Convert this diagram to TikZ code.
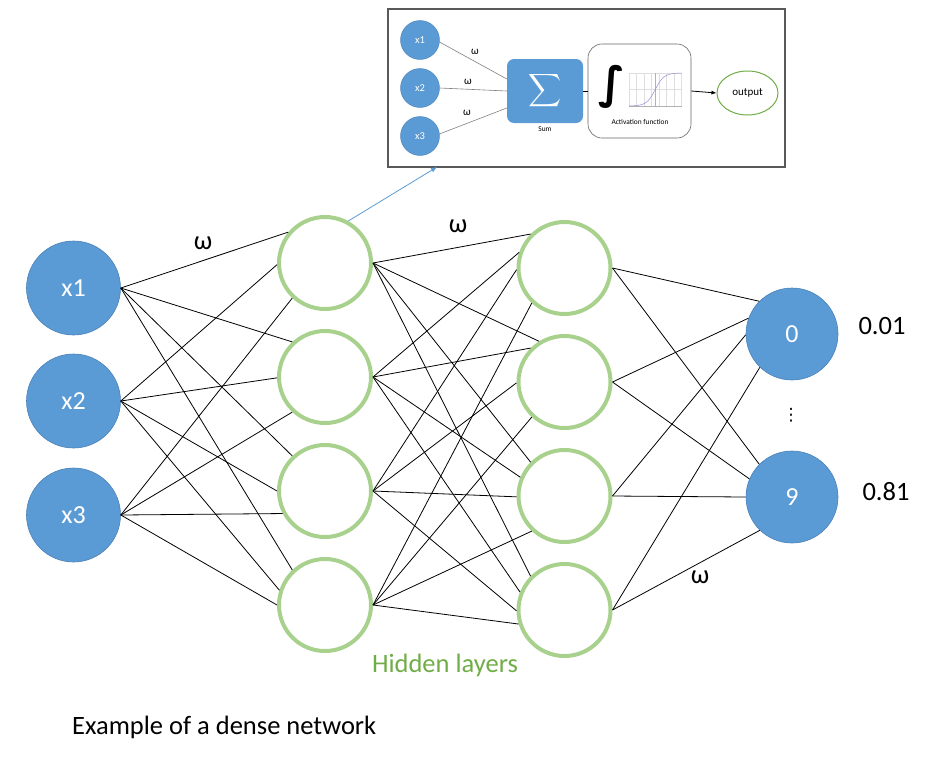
\documentclass[tikz,border=0pt]{standalone}
\usepackage{fontspec}
\setmainfont{Carlito}
\newfontfamily\dejavu{DejaVu Sans}
\usetikzlibrary{arrows.meta,shapes.geometric}
\definecolor{nblue}{HTML}{5B9BD5}
\definecolor{nblueb}{HTML}{4A80B8}
\definecolor{ngreen}{HTML}{A9D18E}
\definecolor{tgreen}{HTML}{70AD47}
\definecolor{boxgray}{HTML}{595959}
\begin{document}
\begin{tikzpicture}[x=1pt,y=-1pt,
 inp/.style={circle,fill=nblue,draw=nblueb,line width=0.6pt,minimum size=94pt,inner sep=0pt,text=white,font=\fontsize{26}{26}\selectfont},
 hid/.style={circle,draw=ngreen,line width=4pt,minimum size=92pt,inner sep=0pt},
 outn/.style={circle,fill=nblue,draw=nblueb,line width=0.6pt,minimum size=92pt,inner sep=0pt,text=white,font=\fontsize{26}{26}\selectfont},
 edge/.style={line width=0.8pt,black},
 lbl/.style={font=\fontsize{26.5}{26.5}\selectfont,inner sep=0pt},
 sinp/.style={circle,fill=nblue,draw=nblueb,line width=0.4pt,minimum size=39pt,inner sep=0pt,text=white,font=\fontsize{10.5}{10.5}\selectfont},
 sedge/.style={line width=0.6pt,gray},
 slbl/.style={font=\fontsize{11}{11}\selectfont,inner sep=0pt},
 tiny/.style={font=\fontsize{7.4}{7.4}\selectfont,inner sep=0pt}
]
\useasboundingbox (0,0) rectangle (928,761);
% input layer
\node[inp] (i1) at (73.5,288) {x1};
\node[inp] (i2) at (73.5,401) {x2};
\node[inp] (i3) at (73.5,515) {x3};
% hidden layer 1
\node[hid] (a1) at (325,263) {};
\node[hid] (a2) at (325,377) {};
\node[hid] (a3) at (325,491) {};
\node[hid] (a4) at (325,605) {};
% hidden layer 2
\node[hid] (b1) at (564.5,268) {};
\node[hid] (b2) at (564.5,382) {};
\node[hid] (b3) at (564.5,496) {};
\node[hid] (b4) at (564.5,610) {};
% outputs
\node[outn] (o0) at (792,334) {0};
\node[outn] (o9) at (792,497) {9};
% input -> hidden 1
\foreach \i/\j/\a in {1/1/140,2/1/182,3/1/227,
                      1/2/133,2/2/181,3/2/227,
                      1/3/133,2/3/180,3/3/208,
                      1/4/133,2/4/162,3/4/180}
  \draw[edge] (i\i.east) -- (a\j.\a);
% hidden 1 -> hidden 2
\foreach \j/\k/\a in {1/1/135,2/1/161,3/1/182,4/1/227,
                      1/2/122,2/2/135,3/2/181,4/2/227,
                      1/3/135,2/3/157,3/3/181,4/3/227,
                      1/4/135,2/4/158,3/4/181,4/4/197}
  \draw[edge] (a\j.east) -- (b\k.\a);
% hidden 2 -> output
\foreach \k/\o/\a in {1/0/135,2/0/160,3/0/181,4/0/226,
                      1/9/135,2/9/157,3/9/180,4/9/226}
  \draw[edge] (b\k.east) -- (o\o.\a);
% labels
\node[lbl] (w1) at (203,243) {ω};
\node[lbl] (w2) at (458,226) {ω};
\node[lbl] (w3) at (700,577) {ω};
\node[lbl] (p0) at (882,326) {0.01};
\node[lbl] (p9) at (886,492) {0.81};
\node[inner sep=0pt,font=\dejavu\fontsize{17}{17}\selectfont] (dots) at (791,415) {⋮};
\node[lbl,text=tgreen] (hl) at (445,665) {Hidden layers};
\node[lbl,anchor=west] (cap) at (72,727) {Example of a dense network};
% ---------- inset ----------
\node[draw=boxgray,line width=1.5pt,minimum width=397pt,minimum height=158pt,inner sep=0pt] (inset) at (586.5,88) {};
\node[sinp] (s1) at (420,40) {x1};
\node[sinp] (s2) at (420,88) {x2};
\node[sinp] (s3) at (420,136) {x3};
\node[fill=nblue,rounded corners=7pt,minimum width=76pt,minimum height=64pt,inner sep=0pt] (sum) at (545,91) {};
\node[text=white,inner sep=0pt] (sig) at (545,91) {\scalebox{2.3}{$\displaystyle\sum$}};
\node[tiny] (sumlbl) at (545,129) {Sum};
\draw[sedge] (s1.-6) -- ([yshift=12pt]sum.west);
\draw[sedge] (s2.east) -- (sum.west);
\draw[sedge] (s3.6) -- ([yshift=-17pt]sum.west);
\node[slbl] (sw1) at (475,52) {ω};
\node[slbl] (sw2) at (468,82) {ω};
\node[slbl] (sw3) at (467,113) {ω};
\node[draw=gray!80!black,line width=0.6pt,rounded corners=14pt,minimum width=103pt,minimum height=94pt,inner sep=0pt] (act) at (639.5,91) {};
\draw[line width=0.8pt,black] (sum.east) -- (act.west);
\node[inner sep=0pt,font=\dejavu\bfseries\fontsize{44}{44}\selectfont] (intg) at (612,87) {∫};
% sigmoid plot
\begin{scope}[shift={(629,73)}]
  \foreach \gx in {0,7.5,15,22.5,30,37.5,45,52.5}
    \draw[gray!25,line width=0.3pt] (\gx,0) -- (\gx,33);
  \foreach \gy in {0,16.5,33}
    \draw[gray!25,line width=0.3pt] (0,\gy) -- (52.5,\gy);
  \draw[gray!60,line width=0.4pt] (26.25,0) -- (26.25,33);
  \draw[gray!60,line width=0.3pt] (0,33) -- (52.5,33);
  \draw[blue!45!gray!60,line width=0.5pt,domain=0:52.5,samples=60,smooth] plot (\x,{33-33/(1+exp(-(\x-26.25)/4.4))});
\end{scope}
\node[tiny] (actlbl) at (640,122) {Activation function};
\node[ellipse,draw=tgreen,line width=1pt,minimum width=61pt,minimum height=44pt,inner sep=0pt,font=\fontsize{11}{11}\selectfont] (outp) at (747.5,93) {output};
\draw[line width=0.8pt,black,-{Latex[length=5pt,width=4pt]}] (act.east) -- (outp.west);
% blue arrow to inset
\coordinate (tip) at (437,167);
\draw[nblue,line width=0.8pt,-{Latex[length=6pt,width=5pt]}] (a1.61) -- (tip);
\end{tikzpicture}
\end{document}
